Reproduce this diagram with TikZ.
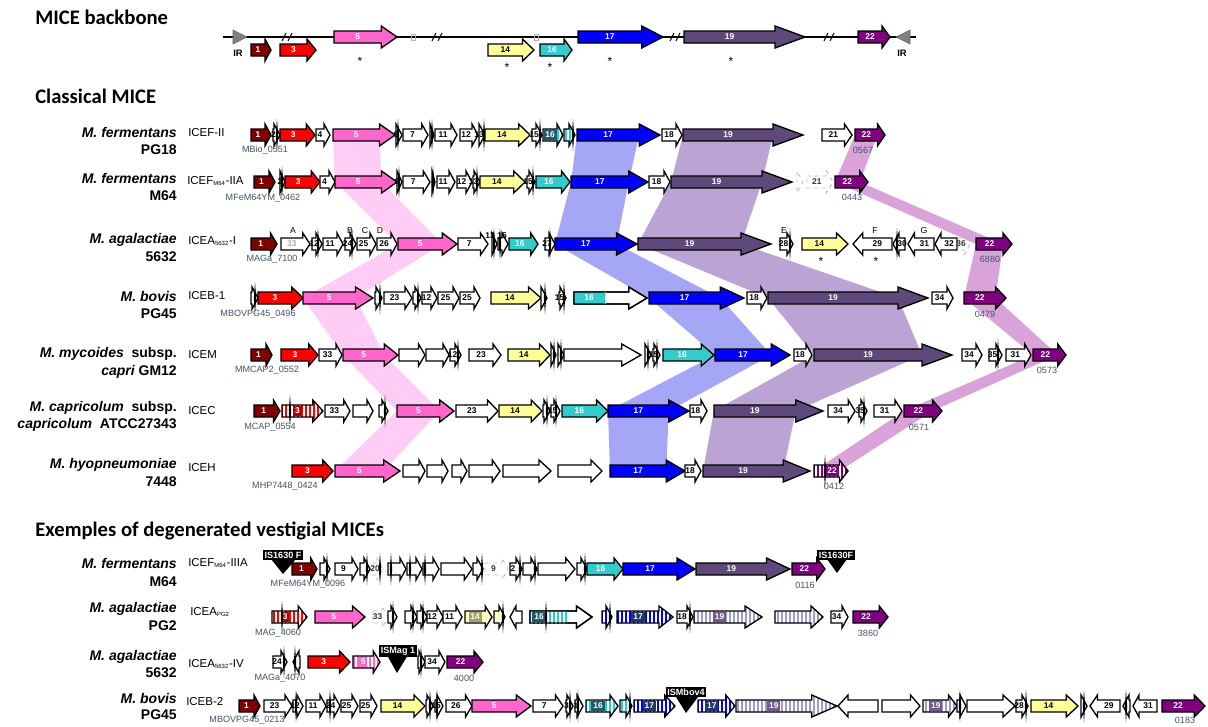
\documentclass[tikz,border=0pt]{standalone}
\usepackage{fontspec}
\setmainfont{Liberation Sans}
\newfontfamily\titlefont{Carlito}
\usetikzlibrary{patterns.meta}

\definecolor{cOne}{HTML}{7F0000}
\definecolor{cThree}{HTML}{FF0000}
\definecolor{cFive}{HTML}{FF66CC}
\definecolor{cFourteen}{HTML}{FFFF99}
\definecolor{cSixteen}{HTML}{33CCCC}
\definecolor{cSeventeen}{HTML}{0000FF}
\definecolor{cNineteen}{HTML}{5F497A}
\definecolor{cTwentytwo}{HTML}{800080}
\definecolor{bandFive}{HTML}{FFCCF5}
\definecolor{bandSeventeen}{HTML}{A6A6F7}
\definecolor{bandNineteen}{HTML}{BBA4D4}
\definecolor{bandTwentytwo}{HTML}{D9A3D9}
\definecolor{tagcol}{HTML}{44546A}
\definecolor{redbox}{HTML}{B00000}
\definecolor{tealbox}{HTML}{215967}
\definecolor{navybox}{HTML}{1F3864}
\definecolor{lavender}{HTML}{9C9CD0}
\definecolor{purplebox}{HTML}{6E5A8E}
\definecolor{khakibox}{HTML}{A69F6B}

\tikzset{
  gene/.style={draw=black, line width=1pt, line join=miter},
  glabel/.style={font=\bfseries\fontsize{6.3}{7}\selectfont, inner sep=0.6pt},
  tag/.style={font=\fontsize{6.8}{8}\selectfont, text=tagcol, inner sep=0},
  sp/.style={font=\bfseries\fontsize{10.5}{12}\selectfont, inner sep=0, anchor=east},
  icename/.style={font=\fontsize{8.6}{10}\selectfont, inner sep=0, anchor=west},
  sectitle/.style={font=\titlefont\bfseries\fontsize{15.5}{18}\selectfont, inner sep=0, anchor=west},
  isbox/.style={fill=black, text=white, font=\bfseries\fontsize{6.8}{7}\selectfont, inner sep=1.3pt},
  stripes/.style={pattern={Lines[angle=90,distance=3pt,line width=1.1pt]}, pattern color=white},
  letter/.style={font=\fontsize{6.5}{7}\selectfont, inner sep=0},
  star/.style={font=\fontsize{9}{9}\selectfont, inner sep=0},
  labbox/.style={glabel, text=white, inner sep=1.4pt, minimum height=8pt},
}

\newcounter{lbl}
% arrow outline of a gene, x1 x2 y
\newcommand{\setgp}[3]{%
  \pgfmathsetmacro\hl{min(min(max(0.25*(#2-#1),6),30),#2-#1)}%
  \pgfmathsetmacro\xm{#2-\hl}%
  \pgfmathsetmacro\xc{(#1+\xm)/2}%
  \edef\gp{(#1,#3-6) -- (\xm,#3-6) -- (\xm,#3-11) -- (#2,#3) -- (\xm,#3+11) -- (\xm,#3+6) -- (#1,#3+6) -- cycle}}
% reverse gene outline
\newcommand{\setgr}[3]{%
  \pgfmathsetmacro\hl{min(min(max(0.25*(#2-#1),6),30),#2-#1)}%
  \pgfmathsetmacro\xm{#1+\hl}%
  \pgfmathsetmacro\xc{(#2+\xm)/2}%
  \edef\gp{(#2,#3-6) -- (\xm,#3-6) -- (\xm,#3-11) -- (#1,#3) -- (\xm,#3+11) -- (\xm,#3+6) -- (#2,#3+6) -- cycle}}
\newcommand{\gn}[6][white]{\setgp{#3}{#4}{#5}%
  \filldraw[gene, fill=#2] \gp;
  \stepcounter{lbl}\node[glabel, text=#1] (lbl\arabic{lbl}) at (\xc,#5) {#6};}
\newcommand{\gw}[4]{\gn[black]{white}{#1}{#2}{#3}{#4}}
\newcommand{\gr}[6][black]{\setgr{#3}{#4}{#5}%
  \filldraw[gene, fill=#2] \gp;
  \stepcounter{lbl}\node[glabel, text=#1] (lbl\arabic{lbl}) at (\xc,#5) {#6};}
\newcommand{\gd}[4]{\setgp{#1}{#2}{#3}%
  \draw[gene, draw=gray!55, line width=0.6pt, dashed] \gp;
  \stepcounter{lbl}\node[glabel, text=black!80] (lbl\arabic{lbl}) at (\xc,#3) {#4};}
\newcommand{\gs}[6]{\setgp{#3}{#4}{#5}%
  \fill[#1] \gp;
  \fill[stripes] \gp;
  \draw[gene] \gp;
  \ifx\relax#6\relax\else
  \stepcounter{lbl}\node[labbox, fill=#2] (lbl\arabic{lbl}) at (\xc,#5) {#6};\fi}
\newcommand{\spk}[2]{\fill[black] (#1,#2-16) -- (#1+1.2,#2) -- (#1,#2+16) -- (#1-1.2,#2) -- cycle;}
\newcommand{\brk}[2]{\draw[line width=0.8pt] (#1-5,#2+4) -- (#1-1,#2-4) (#1+1,#2+4) -- (#1+5,#2-4);}
% band between two homologous genes
\newcommand{\lk}[7]{%
  \pgfmathsetmacro\ha{#3-min(min(max(0.25*(#3-#2),6),30),#3-#2)}%
  \pgfmathsetmacro\hb{#6-min(min(max(0.25*(#6-#5),6),30),#6-#5)}%
  \fill[#1] (#2,#4) -- (\ha,#4) -- (\hb,#7) -- (#5,#7) -- cycle;}

\begin{document}
\begin{tikzpicture}[x=0.75pt, y=-0.75pt]
\fill[white] (0,0) rectangle (1208,726);
\useasboundingbox (0,0) rectangle (1208,726);

% titles
\node[sectitle] (tBack) at (35,17) {MICE backbone};
\node[sectitle] (tClass) at (35,96) {Classical MICE};
\node[sectitle] (tVest) at (35,531) {Exemples of degenerated vestigial MICEs};

% backbone
\draw[line width=1pt] (223,37) -- (916,37);
\filldraw[fill=gray, draw=gray!80!black] (233,30) -- (247,37) -- (233,44) -- cycle;
\filldraw[fill=gray, draw=gray!80!black] (910,30) -- (896,37) -- (910,44) -- cycle;
\node[glabel, font=\bfseries\fontsize{7}{8}\selectfont] (irL) at (238,53) {IR};
\node[glabel, font=\bfseries\fontsize{7}{8}\selectfont] (irR) at (902,53) {IR};
\gn{cOne}{251}{271}{50}{1}
\gn{cThree}{280}{316}{50}{3}
\brk{287}{37}
\gn{cFive}{334}{397}{37}{5}
\draw[gray!60, line width=0.5pt] (411,34) rectangle (415,40);
\brk{437}{37}
\gn[black]{cFourteen}{488}{534}{50}{14}
\draw[gray!60, line width=0.5pt] (534,34) rectangle (538,40);
\gn{cSixteen}{540}{572}{50}{16}
\gn{cSeventeen}{578}{663}{37}{17}
\brk{675}{37}
\gn{cNineteen}{684}{805}{37}{19}
\brk{829}{37}
\gn{cTwentytwo}{858}{890}{37}{22}
\node[star] (s5) at (360,61) {*};
\node[star] (s14) at (507,67) {*};
\node[star] (s16) at (550,67) {*};
\node[star] (s17) at (610,61) {*};
\node[star] (s19) at (731,61) {*};

% homology bands
\lk{bandFive}{333}{395}{135}{335}{397}{182}
\lk{bandFive}{335}{397}{182}{398}{457}{244}
\lk{bandFive}{398}{457}{244}{303}{373}{298}
\lk{bandFive}{303}{373}{298}{343}{398}{355}
\lk{bandFive}{343}{398}{355}{397}{454}{411}
\lk{bandFive}{397}{454}{411}{335}{400}{471}
\lk{bandSeventeen}{577}{660}{135}{571}{648}{182}
\lk{bandSeventeen}{571}{648}{182}{555}{637}{244}
\lk{bandSeventeen}{555}{637}{244}{649}{744}{298}
\lk{bandSeventeen}{649}{744}{298}{715}{790}{355}
\lk{bandSeventeen}{715}{790}{355}{608}{689}{411}
\lk{bandSeventeen}{608}{689}{411}{610}{685}{471}
\lk{bandNineteen}{683}{803}{135}{671}{792}{182}
\lk{bandNineteen}{671}{792}{182}{638}{771}{244}
\lk{bandNineteen}{638}{771}{244}{768}{928}{298}
\lk{bandNineteen}{768}{928}{298}{814}{952}{355}
\lk{bandNineteen}{814}{952}{355}{714}{823}{411}
\lk{bandNineteen}{714}{823}{411}{703}{810}{471}
\lk{bandTwentytwo}{855}{885}{135}{835}{868}{182}
\lk{bandTwentytwo}{835}{868}{182}{976}{1012}{244}
\lk{bandTwentytwo}{976}{1012}{244}{964}{1006}{298}
\lk{bandTwentytwo}{964}{1006}{298}{1033}{1066}{355}
\lk{bandTwentytwo}{1033}{1066}{355}{904}{942}{411}
\lk{bandTwentytwo}{904}{942}{411}{814}{848}{471}

% ICEF-II
\node[sp] (spA1) at (177,132) {\itshape M. fermentans};
\node[sp] (spA2) at (177,150) {PG18};
\node[icename] (iceA) at (188,133) {ICEF-II};
\gn{cOne}{251}{271}{135}{1}
\gw{273}{280}{135}{2} \spk{277}{135}
\gn{cThree}{280}{315}{135}{3}
\gw{316}{330}{135}{4}
\gn{cFive}{333}{395}{135}{5}
\gw{396}{402}{135}{6} \spk{398}{135}
\gw{403}{428}{135}{7}
\gw{430}{434}{135}{} \spk{432}{135}
\gw{435}{457}{135}{11}
\gw{460}{478}{135}{12}
\gw{479}{485}{135}{13} \spk{484}{135}
\gn[black]{cFourteen}{485}{530}{135}{14}
\gw{532}{542}{135}{15} \spk{540}{135}
\gs{cSixteen}{tealbox}{543}{563}{135}{16}
\gs{cSixteen}{tealbox}{564}{575}{135}{} \spk{573}{135}
\gn{cSeventeen}{577}{660}{135}{17}
\gw{662}{682}{135}{18}
\gn{cNineteen}{683}{803}{135}{19}
\gw{822}{852}{135}{21}
\gn{cTwentytwo}{855}{885}{135}{22}
\node[tag] (tgA1) at (265,150) {MBio\_0551};
\node[tag] (tgA2) at (863,150) {0567};

% ICEF M64-IIA
\node[sp] (spB1) at (177,178) {\itshape M. fermentans};
\node[sp] (spB2) at (177,196) {M64};
\node[icename] (iceB) at (187,181) {ICEF\textsubscript{\fontsize{4.5}{5}\selectfont M64}-IIA};
\gn{cOne}{254}{275}{182}{1}
\gw{280}{285}{182}{2} \spk{282}{182}
\gn{cThree}{285}{320}{182}{3}
\gw{320}{335}{182}{4}
\gn{cFive}{335}{397}{182}{5}
\gw{397}{402}{182}{6} \spk{399}{182}
\gw{403}{430}{182}{7}
\gw{432}{435}{182}{} \spk{433}{182}
\gw{437}{455}{182}{11}
\gw{457}{472}{182}{12}
\gw{473}{480}{182}{13} \spk{477}{182}
\gn[black]{cFourteen}{480}{525}{182}{14}
\gw{527}{535}{182}{15} \spk{533}{182}
\gn{cSixteen}{536}{570}{182}{16}
\gn{cSeventeen}{571}{648}{182}{17}
\gw{649}{670}{182}{18}
\gn{cNineteen}{671}{792}{182}{19}
\gd{797}{803}{182}{}
\gd{807}{833}{182}{21}
\gn{cTwentytwo}{835}{868}{182}{22}
\node[tag] (tgB1) at (263,198) {MFeM64YM\_0462};
\node[tag] (tgB2) at (852,197) {0443};

% ICEA 5632-I
\node[sp] (spC1) at (177,240) {\itshape M. agalactiae};
\node[sp] (spC2) at (177,257) {5632};
\node[icename] (iceC) at (188,241) {ICEA\textsubscript{\fontsize{4.5}{5}\selectfont 5632}-I};
\gn{cOne}{251}{277}{244}{1}
\gn[gray!60]{white}{281}{310}{244}{33}
\gw{312}{322}{244}{12} \spk{318}{244}
\gw{323}{343}{244}{11}
\gw{345}{356}{244}{24} \spk{352}{244}
\gw{357}{376}{244}{25}
\gw{377}{397}{244}{26}
\gn{cFive}{398}{457}{244}{5}
\gw{458}{488}{244}{7}
\gw{492}{497}{244}{} \spk{494}{244}
\gw{498}{508}{244}{} \spk{500}{244}
\gn{cSixteen}{509}{538}{244}{16}
\gw{545}{555}{244}{27} \spk{550}{244}
\gn{cSeventeen}{555}{637}{244}{17}
\gn{cNineteen}{638}{771}{244}{19}
\gw{780}{793}{244}{28} \spk{790}{244}
\gn[black]{cFourteen}{802}{848}{244}{14}
\gr{white}{853}{892}{244}{29}
\gr{white}{893}{905}{244}{30} \spk{897}{244}
\gr{white}{908}{934}{244}{31}
\gr{white}{935}{957}{244}{32}
\gd{958}{970}{244}{36}
\gn{cTwentytwo}{976}{1012}{244}{22}
\node[letter] (lA) at (293,231) {A};
\node[letter] (lB) at (350,231) {B};
\node[letter] (lC) at (365,231) {C};
\node[letter] (lD) at (380,231) {D};
\node[letter] (lE) at (784,231) {E};
\node[letter] (lF) at (875,231) {F};
\node[letter] (lG) at (924,231) {G};
\node[glabel] (n13) at (490,236) {13};
\node[glabel] (n15) at (502,236) {15};
\node[star] (sC1) at (821,261) {*};
\node[star] (sC2) at (876,261) {*};
\node[tag] (tgC1) at (272,259) {MAGa\_7100};
\node[tag] (tgC2) at (990,259) {6880};

% ICEB-1
\node[sp] (spD1) at (177,296) {\itshape M. bovis};
\node[sp] (spD2) at (177,314) {PG45};
\node[icename] (iceD) at (188,296) {ICEB-1};
\gw{251}{258}{298}{} \spk{255}{298}
\gn{cThree}{258}{303}{298}{3}
\gn{cFive}{303}{373}{298}{5}
\gw{375}{382}{298}{} \spk{380}{298}
\gw{384}{412}{298}{23}
\gw{413}{421}{298}{} \spk{418}{298}
\gw{422}{437}{298}{12}
\gw{438}{459}{298}{25}
\gw{460}{480}{298}{25}
\gn[black]{cFourteen}{491}{541}{298}{14}
\gw{541}{547}{298}{} \spk{545}{298}
\gw{559}{566}{298}{15} \spk{564}{298}
\setgp{574}{647}{298}
\filldraw[gene, fill=white] \gp;
\fill[cSixteen] (574,292) rectangle (605,304);
\draw[gene] \gp;
\draw[gray!50, dashed, line width=0.5pt] (605,292) -- (605,304);
\node[glabel, text=white] (n16D) at (589,298) {16};
\gn{cSeventeen}{649}{744}{298}{17}
\gw{747}{767}{298}{18}
\gn{cNineteen}{768}{928}{298}{19}
\gw{932}{953}{298}{34}
\gn{cTwentytwo}{964}{1006}{298}{22}
\node[tag] (tgD1) at (258,314) {MBOVPG45\_0496};
\node[tag] (tgD2) at (985,314) {0479};

% ICEM
\node[sp] (spE1) at (177,354) {\itshape M. mycoides\upshape\ \ subsp.};
\node[sp] (spE2) at (177,372) {\itshape capri\upshape\ GM12};
\node[icename] (iceE) at (188,355) {ICEM};
\gn{cOne}{251}{272}{355}{1}
\gn{cThree}{281}{318}{355}{3}
\gw{319}{342}{355}{33}
\gn{cFive}{343}{398}{355}{5}
\gw{399}{425}{355}{}
\gw{426}{449}{355}{}
\gw{450}{461}{355}{12} \spk{458}{355}
\gw{469}{501}{355}{23}
\gn[black]{cFourteen}{508}{550}{355}{14}
\gw{551}{556}{355}{} \spk{554}{355}
\gw{558}{564}{355}{} \spk{561}{355}
\gw{564}{641}{355}{}
\gw{645}{651}{355}{} \spk{648}{355}
\gw{653}{660}{355}{15} \spk{657}{355}
\gn{cSixteen}{663}{714}{355}{16}
\gn{cSeventeen}{715}{790}{355}{17}
\gw{794}{812}{355}{18}
\gn{cNineteen}{814}{952}{355}{19}
\gw{962}{982}{355}{34}
\gw{989}{1002}{355}{35} \spk{998}{355}
\gw{1006}{1031}{355}{31}
\gn{cTwentytwo}{1033}{1066}{355}{22}
\node[tag] (tgE1) at (267,370) {MMCAP2\_0552};
\node[tag] (tgE2) at (1047,370) {0573};

% ICEC
\node[sp] (spF1) at (177,408) {\itshape M. capricolum\upshape\ \ subsp.};
\node[sp] (spF2) at (177,425) {\itshape capricolum\upshape\ \ ATCC27343};
\node[icename] (iceF) at (188,411) {ICEC};
\gn{cOne}{254}{280}{411}{1}
\gs{cThree}{redbox}{282}{323}{411}{3} \spk{290}{411}
\gw{325}{350}{411}{33}
\gw{353}{373}{411}{}
\gw{379}{388}{411}{} \spk{385}{411}
\gn{cFive}{397}{454}{411}{5}
\gw{456}{498}{411}{23}
\gn[black]{cFourteen}{499}{542}{411}{14}
\gw{543}{550}{411}{} \spk{547}{411}
\gw{551}{560}{411}{15} \spk{556}{411}
\gn{cSixteen}{562}{608}{411}{16}
\gn{cSeventeen}{608}{689}{411}{17}
\gw{690}{707}{411}{18}
\gn{cNineteen}{714}{823}{411}{19}
\gw{828}{855}{411}{34}
\gw{859}{867}{411}{35} \spk{864}{411}
\gw{874}{902}{411}{31}
\gn{cTwentytwo}{904}{942}{411}{22}
\node[tag] (tgF1) at (270,427) {MCAP\_0554};
\node[tag] (tgF2) at (919,427) {0571};

% ICEH
\node[sp] (spG1) at (177,465) {\itshape M. hyopneumoniae};
\node[sp] (spG2) at (177,482) {7448};
\node[icename] (iceG) at (188,468) {ICEH};
\gn{cThree}{292}{333}{471}{3}
\gn{cFive}{335}{400}{471}{5}
\gw{403}{425}{471}{}
\gw{427}{448}{471}{}
\gw{452}{467}{471}{}
\gw{469}{500}{471}{}
\gw{503}{551}{471}{}
\gw{558}{602}{471}{}
\gn{cSeventeen}{610}{685}{471}{17}
\gw{685}{701}{471}{18}
\gn{cNineteen}{703}{810}{471}{19}
\gs{cTwentytwo}{cTwentytwo}{814}{848}{471}{} \spk{825}{471}
\fill[cTwentytwo] (827,466) rectangle (838,476);
\node[glabel, text=white] (n22G) at (832,471) {22};
\node[tag] (tgG1) at (285,486) {MHP7448\_0424};
\node[tag] (tgG2) at (834,486) {0412};

% ICEF M64-IIIA
\node[sp] (spH1) at (177,563) {\itshape M. fermentans};
\node[sp] (spH2) at (177,582) {M64};
\node[icename] (iceH) at (188,563) {ICEF\textsubscript{\fontsize{4.5}{5}\selectfont M64}-IIIA};
\gn{cOne}{292}{317}{569}{1}
\gw{320}{330}{569}{} \spk{327}{569}
\gw{335}{358}{569}{9}
\gw{360}{370}{569}{} \spk{367}{569}
\gd{373}{383}{569}{20} \spk{380}{569}
\gw{388}{406}{569}{} \spk{391}{569}
\gw{407}{422}{569}{} \spk{410}{569}
\gw{423}{439}{569}{} \spk{425}{569}
\gw{441}{472}{569}{}
\gw{473}{483}{569}{} \spk{482}{569}
\gd{485}{508}{569}{9}
\gw{510}{522}{569}{2} \spk{520}{569}
\gw{523}{537}{569}{} \spk{535}{569}
\gw{538}{575}{569}{}
\gw{577}{587}{569}{} \spk{585}{569}
\gn{cSixteen}{587}{623}{569}{16}
\gn{cSeventeen}{623}{695}{569}{17}
\gn{cNineteen}{696}{790}{569}{19}
\gn{cTwentytwo}{792}{825}{569}{22}
\fill[black] (271,559) -- (296,559) -- (283,574) -- cycle;
\node[isbox] (isA) at (283,555) {IS1630 F};
\fill[black] (827,559) -- (847,559) -- (837,573) -- cycle;
\node[isbox] (isB) at (836,555) {IS1630F};
\node[tag] (tgH1) at (308,584) {MFeM64YM\_0096};
\node[tag] (tgH2) at (805,585) {0116};

% ICEA PG2
\node[sp] (spI1) at (177,609) {\itshape M. agalactiae};
\node[sp] (spI2) at (177,626) {PG2};
\node[icename] (iceI) at (190,612) {ICEA\textsubscript{\fontsize{4.5}{5}\selectfont PG2}};
\gs{cThree}{redbox}{272}{307}{617}{3} \spk{282}{617}
\gn{cFive}{315}{365}{617}{5}
\gd{373}{388}{617}{33}
\gw{388}{397}{617}{} \spk{393}{617}
\gw{405}{417}{617}{} \spk{413}{617}
\gw{417}{427}{617}{} \spk{423}{617}
\gw{427}{443}{617}{12}
\gw{443}{462}{617}{11}
\gs{cFourteen}{khakibox}{465}{492}{617}{14}
\gs{cFourteen}{khakibox}{494}{505}{617}{} \spk{503}{617}
\gr{white}{510}{522}{617}{}
\setgp{530}{592}{617}
\filldraw[gene, fill=white] \gp;
\fill[cSixteen] (530,611) rectangle (567,623);
\fill[stripes] (530,611) rectangle (567,623);
\draw[gene] \gp;
\node[labbox, fill=tealbox] (n16I) at (539,617) {16};
\spk{546}{617}
\gs{cSeventeen}{navybox}{602}{612}{617}{} \spk{610}{617}
\gs{cSeventeen}{navybox}{617}{673}{617}{17}
\gw{677}{693}{617}{18} \spk{690}{617}
\gs{lavender}{purplebox}{694}{762}{617}{19}
\gs{lavender}{purplebox}{775}{823}{617}{}
\gw{831}{848}{617}{34}
\gn{cTwentytwo}{853}{888}{617}{22}
\node[tag] (tgI1) at (278,633) {MAG\_4060};
\node[tag] (tgI2) at (868,633) {3860};

% ICEA 5632-IV
\node[sp] (spJ1) at (177,657) {\itshape M. agalactiae};
\node[sp] (spJ2) at (177,673) {5632};
\node[icename] (iceJ) at (188,664) {ICEA\textsubscript{\fontsize{4.5}{5}\selectfont 5632}-IV};
\gw{273}{287}{662}{24} \spk{284}{662}
\gr{white}{293}{300}{662}{} \spk{295}{662}
\gn{cThree}{308}{350}{662}{3}
\gs{cFive}{cFive}{353}{380}{662}{5}
\gw{418}{425}{662}{} \spk{421}{662}
\gw{425}{445}{662}{34}
\gn{cTwentytwo}{447}{483}{662}{22}
\fill[black] (387,655) -- (408,655) -- (397,673) -- cycle;
\node[isbox] (isC) at (398,651) {ISMag 1};
\node[tag] (tgJ1) at (280,678) {MAGa\_4070};
\node[tag] (tgJ2) at (464,678) {4000};

% ICEB-2
\node[sp] (spK1) at (177,698) {\itshape M. bovis};
\node[sp] (spK2) at (177,715) {PG45};
\node[icename] (iceK) at (186,702) {ICEB-2};
\gn{cOne}{239}{260}{706}{1}
\gw{264}{292}{706}{23}
\gw{293}{303}{706}{12} \spk{296}{706}
\gw{306}{326}{706}{11}
\gw{327}{340}{706}{24} \spk{330}{706}
\gw{341}{358}{706}{25}
\gw{360}{377}{706}{25}
\gn[black]{cFourteen}{381}{425}{706}{14}
\gw{426}{433}{706}{} \spk{430}{706}
\gw{435}{443}{706}{15} \spk{437}{706}
\gw{446}{472}{706}{26}
\gn{cFive}{472}{531}{706}{5}
\gw{533}{563}{706}{7}
\gw{566}{573}{706}{3} \spk{570}{706}
\gw{575}{583}{706}{1} \spk{578}{706}
\gs{cSixteen}{tealbox}{586}{618}{706}{16}
\gs{cSixteen}{tealbox}{620}{632}{706}{} \spk{630}{706}
\gs{cSeventeen}{navybox}{634}{675}{706}{17}
\gs{cSeventeen}{navybox}{698}{735}{706}{17}
\fill[black] (676,697) -- (698,697) -- (686,713) -- cycle;
\node[isbox] (isD) at (686,692) {ISMbov4};
\gs{lavender}{purplebox}{736}{837}{706}{19}
\gr{white}{838}{878}{706}{}
\gw{882}{920}{706}{}
\gs{lavender}{purplebox}{923}{957}{706}{19}
\gw{957}{966}{706}{} \spk{960}{706}
\gw{967}{1015}{706}{}
\gw{1016}{1028}{706}{28} \spk{1026}{706}
\gn[black]{cFourteen}{1031}{1078}{706}{14}
\gw{1081}{1087}{706}{} \spk{1084}{706}
\gr{white}{1090}{1120}{706}{29}
\gr{white}{1123}{1130}{706}{} \spk{1126}{706}
\gr{white}{1133}{1157}{706}{31}
\gn{cTwentytwo}{1162}{1205}{706}{22}
\node[tag] (tgK1) at (247,720) {MBOVPG45\_0213};
\node[tag] (tgK2) at (1185,720) {0183};
\end{tikzpicture}
\end{document}
